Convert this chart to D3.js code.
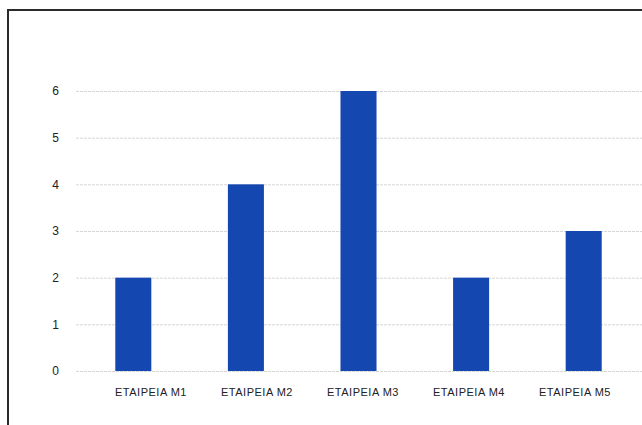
<!DOCTYPE html>
<html>
<head>
<meta charset="utf-8">
<script src="https://cdn.jsdelivr.net/npm/d3@7"></script>
<style>
  html, body { margin: 0; padding: 0; background: #fff; }
  svg { display: block; }
</style>
</head>
<body>
<svg id="chart" width="642" height="425"></svg>
<script>
// Companies and their counts
const categories = ["ETAIPEIA M1", "ETAIPEIA M2", "ETAIPEIA M3", "ETAIPEIA M4", "ETAIPEIA M5"];
const values = [2, 4, 6, 2, 3];
const yTicks = [0, 1, 2, 3, 4, 5, 6];

const svg = d3.select("#chart");
const W = 642, H = 425;

// Outer frame (runs off the right and bottom edges)
svg.append("rect")
  .attr("x", 8).attr("y", 10)
  .attr("width", W + 20).attr("height", H + 20)
  .attr("fill", "#fff")
  .attr("stroke", "#2b2b2b")
  .attr("stroke-width", 2);

const y = d3.scaleLinear().domain([0, 6]).range([371, 91]);
const x = d3.scaleBand().domain(categories).range([77, 640])
  .paddingInner(0.68).paddingOuter(0.34);
const xLabel = d3.scalePoint().domain(categories).range([151, 575]);

// Dashed gridlines
svg.append("g").selectAll("line").data(yTicks).join("line")
  .attr("x1", 76).attr("x2", W)
  .attr("y1", d => y(d) + 0.5).attr("y2", d => y(d) + 0.5)
  .attr("stroke", "#d6d6d6")
  .attr("stroke-width", 1)
  .attr("stroke-dasharray", "3,1");

// Y tick labels
svg.append("g").selectAll("text").data(yTicks).join("text")
  .attr("x", 59).attr("y", d => y(d))
  .attr("dy", "0.36em")
  .attr("text-anchor", "end")
  .attr("font-family", "Liberation Sans, Arial, sans-serif")
  .attr("font-size", 12)
  .attr("fill", "#222")
  .text(d => d);

// Bars
svg.append("g").selectAll("rect").data(values).join("rect")
  .attr("x", (d, i) => x(categories[i]))
  .attr("width", x.bandwidth())
  .attr("y", d => y(d))
  .attr("height", d => y(0) - y(d))
  .attr("fill", "#1447b0");

// Category labels
svg.append("g").selectAll("text").data(categories).join("text")
  .attr("x", d => xLabel(d)).attr("y", 396)
  .attr("text-anchor", "middle")
  .attr("font-family", "Liberation Sans, Arial, sans-serif")
  .attr("font-size", 11)
  .attr("letter-spacing", 0.5)
  .attr("fill", "#222")
  .text(d => d);
</script>
</body>
</html>
